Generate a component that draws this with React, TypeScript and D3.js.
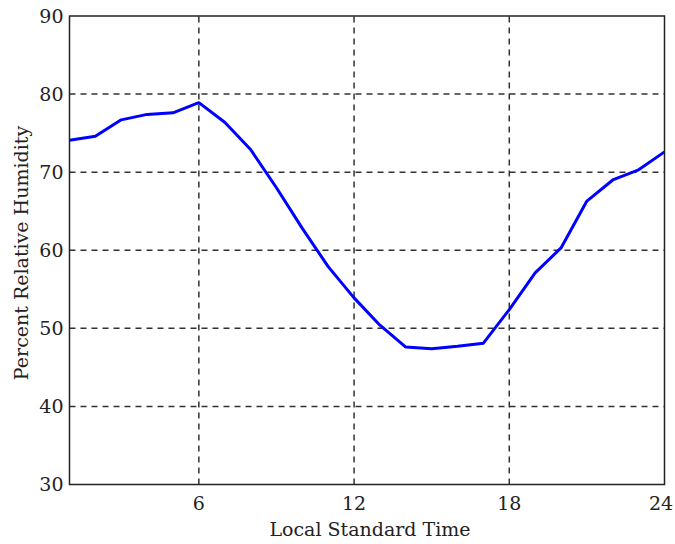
import React from "react";
import * as d3 from "d3";

const hours = [1, 2, 3, 4, 5, 6, 7, 8, 9, 10, 11, 12, 13, 14, 15, 16, 17, 18, 19, 20, 21, 22, 23, 24];
const humidity = [74.1, 74.6, 76.7, 77.4, 77.6, 78.9, 76.4, 72.9, 68.0, 62.8, 57.9, 53.9, 50.4, 47.6, 47.4, 47.7, 48.1, 52.4, 57.1, 60.3, 66.3, 69.0, 70.3, 72.6];
const xTicks = [6, 12, 18, 24];
const yTicks = [30, 40, 50, 60, 70, 80, 90];

const W = 675, H = 544;
const L = 69.5, R = 664.5, T = 16, B = 484.5;
const FONT = "'DejaVu Serif', serif";

export default function App() {
  const x = d3.scaleLinear().domain([1, 24]).range([L, R]);
  const y = d3.scaleLinear().domain([30, 90]).range([B, T]);
  const line = d3.line<number>().x((_, i) => x(hours[i])).y((d) => y(d));
  return (
    <svg width={W} height={H} style={{ position: "absolute", left: 0, top: 0 }}>
      <rect x={0} y={0} width={W} height={H} fill="#fff" />
      {yTicks.filter((t) => t > 30 && t < 90).map((t) => (
        <line key={"gy" + t} x1={L} x2={R} y1={y(t)} y2={y(t)} stroke="#333" strokeWidth={1.5} strokeDasharray="6 5" />
      ))}
      {xTicks.filter((t) => t < 24).map((t) => (
        <line key={"gx" + t} x1={x(t)} x2={x(t)} y1={B} y2={T} stroke="#333" strokeWidth={1.5} strokeDasharray="6 5" />
      ))}
      <path d={line(humidity) || ""} fill="none" stroke="#0000ff" strokeWidth={3} strokeLinejoin="round" />
      <rect x={L} y={T} width={R - L} height={B - T} fill="none" stroke="#222" strokeWidth={1.5} />
      {yTicks.map((t) => (
        <text key={"ty" + t} x={L - 6} y={y(t)} dy="0.36em" textAnchor="end" fontFamily={FONT} fontSize={19} fill="#222">{t}</text>
      ))}
      {xTicks.map((t) => (
        <text key={"tx" + t} x={Math.min(x(t), W - 14)} y={510} textAnchor="middle" fontFamily={FONT} fontSize={19} fill="#222">{t}</text>
      ))}
      <text x={(L + R) / 2 + 3} y={536} textAnchor="middle" fontFamily={FONT} fontSize={19} fill="#222">Local Standard Time</text>
      <text transform={`translate(28,253) rotate(-90)`} textAnchor="middle" fontFamily={FONT} fontSize={19} fill="#222">Percent Relative Humidity</text>
    </svg>
  );
}
